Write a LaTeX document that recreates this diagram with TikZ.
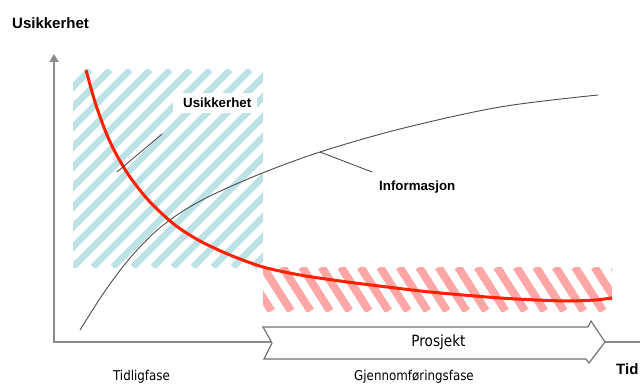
\documentclass[tikz,border=0pt]{standalone}
\usepackage{fontspec}
\setmainfont{Liberation Sans}
\newfontfamily\narrowsans[FakeStretch=0.88]{DejaVu Sans}
\usetikzlibrary{arrows.meta}

\definecolor{axisgray}{HTML}{8A8A8A}
\definecolor{hatchblue}{HTML}{BCE2E5}
\definecolor{hatchred}{HTML}{FFA6A6}
\definecolor{curvered}{HTML}{FF2000}

\begin{document}
\begin{tikzpicture}[x=1pt,y=-1pt,
  axislabel/.style={font=\bfseries\fontsize{15}{18}\selectfont, inner sep=0pt, anchor=base west},
  curvelabel/.style={font=\bfseries\fontsize{13.3}{16}\selectfont, inner sep=0pt, anchor=base west},
  phaselabel/.style={font=\narrowsans\fontsize{13.5}{16}\selectfont, inner sep=0pt, anchor=base},
  axisline/.style={draw=axisgray, line width=2pt},
  leader/.style={draw=black!75, line width=0.8pt},
  stripeblue/.style={draw=hatchblue, line width=6.5pt},
  stripered/.style={draw=hatchred, line width=8pt},
]
\useasboundingbox (0,0) rectangle (640,385);
\clip (0,0) rectangle (640,385);

% early-phase uncertainty band
\begin{scope}
  \clip (73,70) rectangle (263,267);
  \foreach \k in {-11,...,10}
    \draw[stripeblue] ({73+20*\k},267) -- ++(197,-197);
\end{scope}

% remaining uncertainty band during execution
\begin{scope}
  \clip (263,267) rectangle (612,311);
  \foreach \k in {-3,...,19}
    \draw[stripered] ({263+19.5*\k},267) -- ++(28,44);
\end{scope}

% label box for the uncertainty curve
\node[fill=white, minimum width=84pt, minimum height=20pt, inner sep=0pt] (ubox) at (215,103) {};
\node[curvelabel] (ulab) at (183,107.5) {Usikkerhet};

% information curve: steep rise that levels off
\draw[black!70, line width=0.9pt] plot[smooth, tension=0.55] coordinates
  {(80,330) (105,291) (130,258) (155,232) (180,213) (210,196) (260,174)
   (320,152) (400,129) (500,107) (598,95)};

% uncertainty curve: hyperbolic fall, then a flat tail with a slight rise
\draw[curvered, line width=3pt] plot[smooth, tension=0.5] coordinates
  {(86,70) (95,102) (105,130) (115,152) (130,177) (150,202) (175,225) (200,241)
   (230,255) (263,267) (300,275) (340,281) (387,287) (430,292) (463,295)
   (500,298) (537,300) (570,301) (595,300) (612,298)};

% leader lines
\coordinate (uon) at (117,172);
\coordinate (uend) at (162,134);
\draw[leader] (uon) -- (uend);
\coordinate (ion) at (320,152);
\coordinate (iend) at (372,172);
\draw[leader] (ion) -- (iend);
\node[curvelabel] (ilab) at (379,190) {Informasjon};

% axes
\draw[axisline, -{Triangle[width=9pt,length=8pt]}] (640,342) -- (54,342) -- (54,54);

% project phase chevron
\draw[draw=black!55, line width=1.2pt, fill=white]
  (263,327) -- (588,327) -- (591,321) -- (605,342) -- (589,363) -- (586,359)
  -- (264,359) -- (272,343) -- cycle;
\node[font=\narrowsans\fontsize{15.5}{18}\selectfont, inner sep=0pt] (proj) at (438.5,342) {Prosjekt};

% axis titles
\node[axislabel] (ylab) at (12,29) {Usikkerhet};
\node[axislabel] (xlab) at (616,374) {Tid};

% phase names
\node[phaselabel] (early) at (141.5,380.5) {Tidligfase};
\node[phaselabel] (exec) at (414,380.5) {Gjennomføringsfase};
\end{tikzpicture}
\end{document}
